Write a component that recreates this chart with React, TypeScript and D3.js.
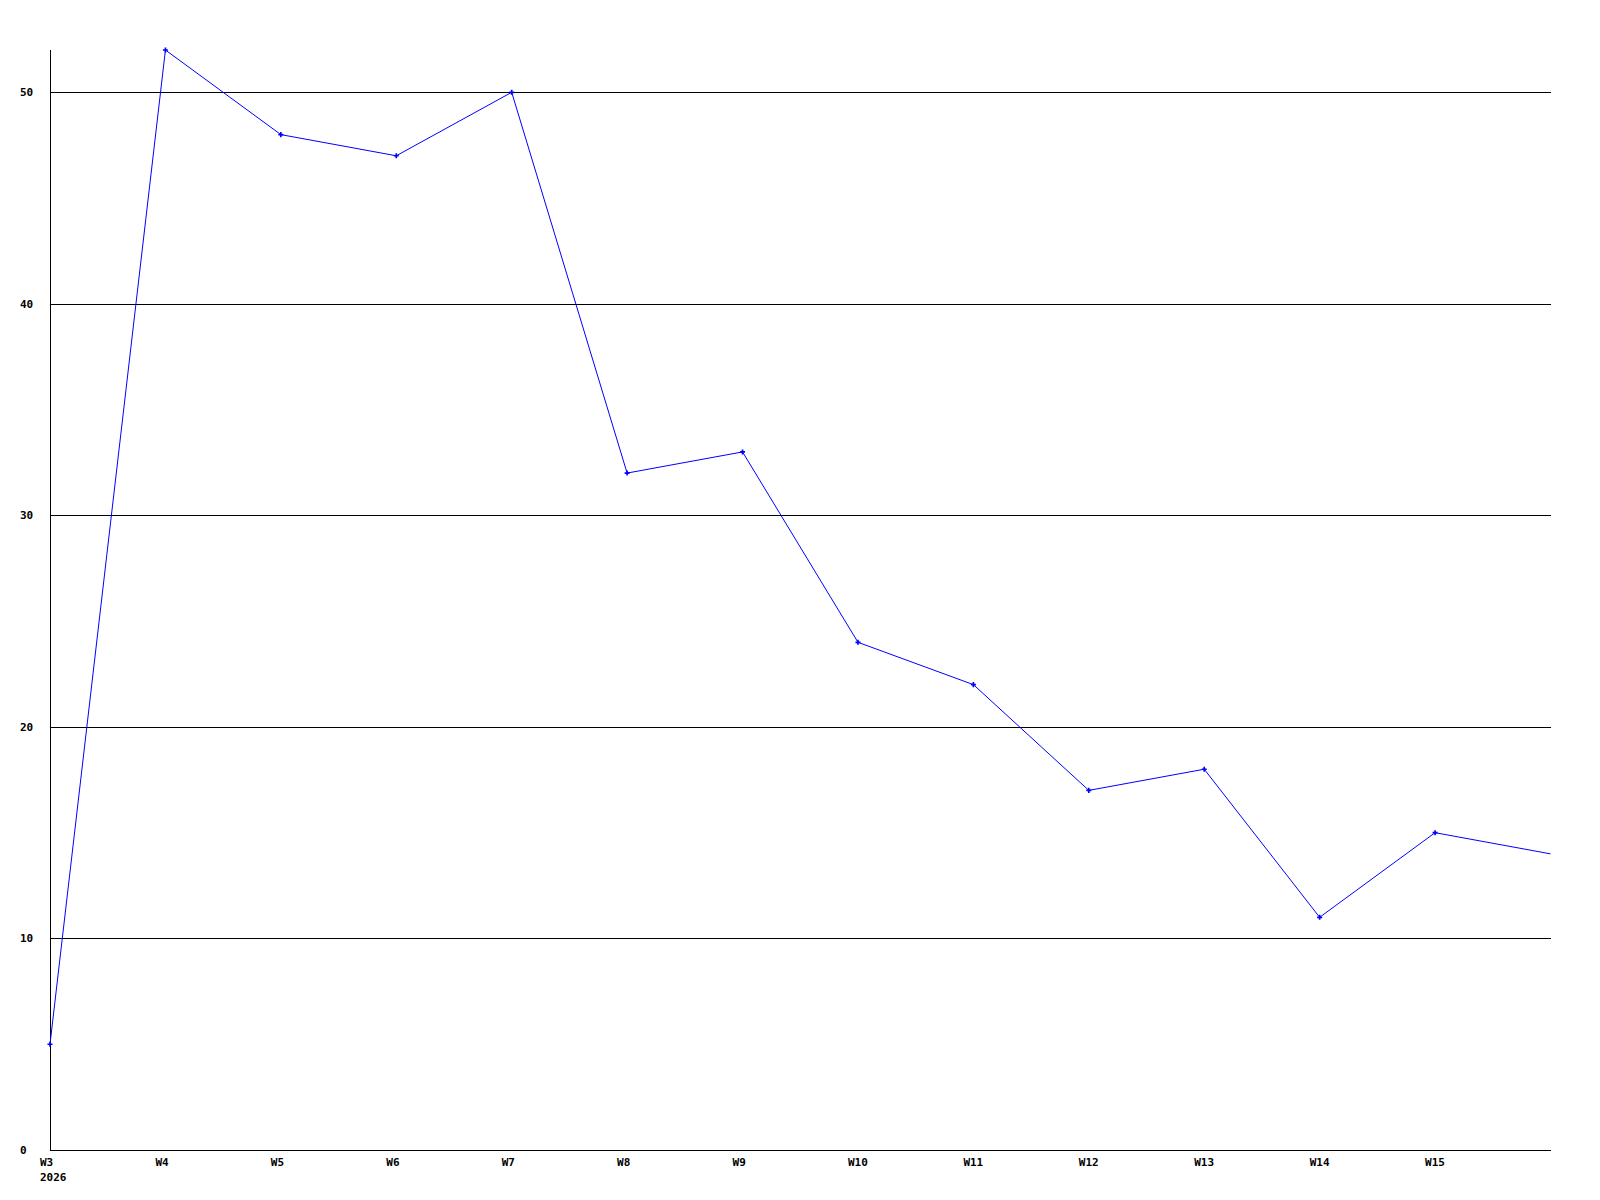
import React from "react";
import * as d3 from "d3";

const weeks = ["W3", "W4", "W5", "W6", "W7", "W8", "W9", "W10", "W11", "W12", "W13", "W14", "W15", "W16"];
const weekLabels = ["W3", "W4", "W5", "W6", "W7", "W8", "W9", "W10", "W11", "W12", "W13", "W14", "W15"];
const values = [5, 52, 48, 47, 50, 32, 33, 24, 22, 17, 18, 11, 15, 14];
const yTicks = [0, 10, 20, 30, 40, 50];
const yearLabel = "2026";

export default function App() {
  const W = 1600, H = 1200;
  const left = 50, right = 1550.5, top = 50, bottom = 1150;
  const x = d3.scalePoint<string>().domain(weeks).range([left, right]);
  const y = d3.scaleLinear().domain([0, 52]).range([bottom, top]);
  const line = d3.line<number>().x((_, i) => x(weeks[i])!).y((d) => y(d));
  const sym = d3.symbol().type(d3.symbolCross).size(14)();
  const font = "'DejaVu Sans Mono', monospace";
  return (
    <div style={{ position: "absolute", left: 0, top: 0 }}>
      <svg width={W} height={H} style={{ display: "block", background: "#fff" }}>
        {yTicks.map((t) => (
          <g key={t}>
            {t > 0 && (
              <line x1={left} x2={right} y1={Math.round(y(t)) + 0.5} y2={Math.round(y(t)) + 0.5} stroke="#000" strokeWidth={1} shapeRendering="crispEdges" />
            )}
            <text x={20} y={y(t)} dy="0.35em" fontFamily={font} fontWeight="bold" fontSize={11} fill="#000">{t}</text>
          </g>
        ))}
        <line x1={left + 0.5} x2={left + 0.5} y1={top} y2={bottom} stroke="#000" strokeWidth={1} shapeRendering="crispEdges" />
        <line x1={left} x2={right} y1={bottom + 0.5} y2={bottom + 0.5} stroke="#000" strokeWidth={1} shapeRendering="crispEdges" />
        {weekLabels.map((w) => (
          <text key={w} x={x(w)! - 10} y={1166} fontFamily={font} fontWeight="bold" fontSize={11} fill="#000">{w}</text>
        ))}
        <text x={40} y={1181} fontFamily={font} fontWeight="bold" fontSize={11} fill="#000">{yearLabel}</text>
        <path d={line(values)!} fill="none" stroke="#0000ff" strokeWidth={1} />
        {values.slice(0, values.length - 1).map((v, i) => (
          <path key={i} d={sym!} transform={`translate(${x(weeks[i])},${y(v)})`} fill="#0000ff" />
        ))}
      </svg>
    </div>
  );
}
